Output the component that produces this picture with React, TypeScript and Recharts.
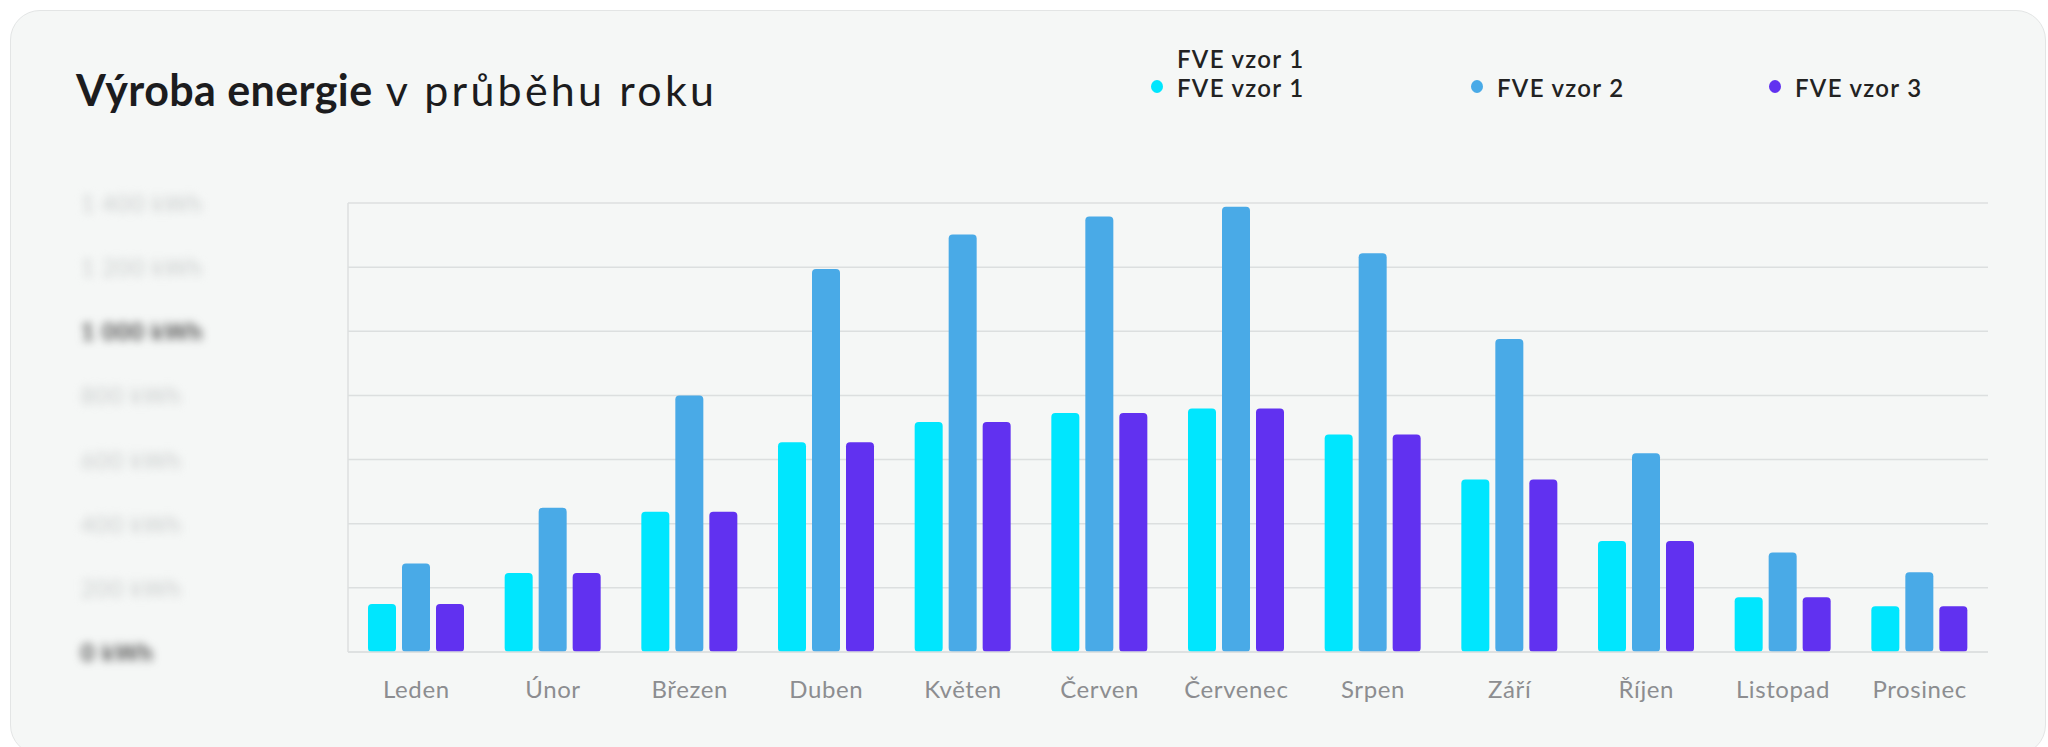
import { BarChart, Bar, XAxis, YAxis, CartesianGrid, Legend } from "recharts";

const CYAN = "#00e6fe";
const BLUE = "#49aae7";
const PURPLE = "#6131f0";
const GRID = "#dcdfdf";
const FONT = "Lato, 'Open Sans', sans-serif";

const MONTHS = [
  "Leden", "Únor", "Březen", "Duben", "Květen", "Červen",
  "Červenec", "Srpen", "Září", "Říjen", "Listopad", "Prosinec",
];

// kWh per month
const VZOR_1 = [150, 246, 437, 654, 717, 745, 759, 678, 538, 346, 171, 143];
const VZOR_2 = [276, 450, 800, 1194, 1302, 1358, 1388, 1243, 976, 620, 310, 249];
const VZOR_3 = [150, 246, 437, 654, 717, 745, 759, 678, 538, 346, 171, 143];

const Y_TICKS = [0, 200, 400, 600, 800, 1000, 1200, 1400];
const STRONG_TICKS = [0, 1000];

const data = MONTHS.map((m, i) => ({
  month: m,
  v1: VZOR_1[i],
  v2: VZOR_2[i],
  v3: VZOR_3[i],
}));

function fmtKwh(v: number) {
  const s = v >= 1000 ? `${Math.floor(v / 1000)} ${String(v % 1000).padStart(3, "0")}` : `${v}`;
  return `${s} kWh`;
}

// eslint-disable-next-line @typescript-eslint/no-explicit-any
function YTick({ y, payload }: any) {
  const strong = STRONG_TICKS.includes(payload.value);
  return (
    <text
      x={81}
      y={y}
      dominantBaseline="central"
      textAnchor="start"
      fontFamily={FONT}
      fontSize={23}
      letterSpacing={1}
      fontWeight={strong ? 700 : 400}
      fill={strong ? "#4a4a4a" : "#c9cccc"}
      style={{ filter: "blur(4px)" }}
    >
      {fmtKwh(payload.value)}
    </text>
  );
}

// eslint-disable-next-line @typescript-eslint/no-explicit-any
function XTick({ x, y, payload }: any) {
  return (
    <text
      x={x}
      y={y + 36}
      dominantBaseline="central"
      textAnchor="middle"
      fontFamily={FONT}
      fontSize={24}
      letterSpacing={0.6}
      fill="#8c8d90"
    >
      {payload.value}
    </text>
  );
}

const legendText = {
  position: "absolute" as const,
  transform: "translateY(-50%)",
  fontSize: 24,
  letterSpacing: 1.3,
  color: "#222",
  fontWeight: 600,
  lineHeight: "21px",
  whiteSpace: "nowrap" as const,
};

// eslint-disable-next-line @typescript-eslint/no-explicit-any
function LegendContent({ payload }: any) {
  const xs = [1157, 1477, 1775];
  return (
    <div style={{ position: "relative", width: 2048, height: 120, fontFamily: FONT }}>
      {payload?.map((entry: { value: string; color: string }, i: number) => (
        <div key={entry.value}>
          {i === 0 && (
            <span style={{ ...legendText, left: xs[i] + 20, top: 58 }}>{entry.value}</span>
          )}
          <span style={{ position: "absolute", left: xs[i] - 6, top: 80, width: 12, height: 13, borderRadius: "50%", background: entry.color }} />
          <span style={{ ...legendText, left: xs[i] + 20, top: 87 }}>{entry.value}</span>
        </div>
      ))}
    </div>
  );
}

export default function App() {
  return (
    <div style={{ position: "relative", width: 2048, height: 747, background: "#fff", overflow: "hidden", fontFamily: FONT }}>
      <style>{`body{margin:0}`}</style>
      <div
        style={{
          position: "absolute", left: 10, top: 10, width: 2036, height: 745,
          background: "#f5f7f6", border: "1.5px solid #e3e5e5", borderRadius: 30, boxSizing: "border-box",
        }}
      />
      <div style={{ position: "absolute", left: 76, top: 65, fontSize: 43, color: "#1c1c1e", whiteSpace: "nowrap", lineHeight: "50px" }}>
        <b style={{ fontWeight: 700, letterSpacing: 0.4 }}>Výroba energie</b>
        <span style={{ letterSpacing: 3.2 }}> v průběhu roku</span>
      </div>
      <div style={{ position: "absolute", left: 0, top: 0 }}>
        <BarChart
          width={2048}
          height={747}
          data={data}
          margin={{ top: 203, right: 60, bottom: 35, left: 0 }}
          barSize={28}
          barGap={6}
        >
          <CartesianGrid vertical={false} stroke={GRID} strokeWidth={1.5} />
          <XAxis
            dataKey="month"
            height={60}
            tickSize={0}
            tickMargin={0}
            axisLine={{ stroke: GRID, strokeWidth: 1.5 }}
            tickLine={false}
            tick={<XTick />}
            interval={0}
          />
          <YAxis
            width={348}
            domain={[0, 1400]}
            ticks={Y_TICKS}
            axisLine={{ stroke: GRID, strokeWidth: 1.5 }}
            tickLine={false}
            tick={<YTick />}
          />
          <YAxis
            yAxisId="right"
            orientation="right"
            width={0}
            domain={[0, 1400]}
            tick={false}
            tickLine={false}
            axisLine={{ stroke: GRID, strokeWidth: 1.5 }}
          />
          <Legend
            verticalAlign="middle"
            align="center"
            layout="horizontal"
            wrapperStyle={{ position: "absolute", left: 0, top: 0, width: 2048, height: 120 }}
            content={<LegendContent />}
          />
          <Bar dataKey="v1" name="FVE vzor 1" fill={CYAN} radius={4} isAnimationActive={false} />
          <Bar dataKey="v2" name="FVE vzor 2" fill={BLUE} radius={4} isAnimationActive={false} />
          <Bar dataKey="v3" name="FVE vzor 3" fill={PURPLE} radius={4} isAnimationActive={false} />
        </BarChart>
      </div>
    </div>
  );
}
